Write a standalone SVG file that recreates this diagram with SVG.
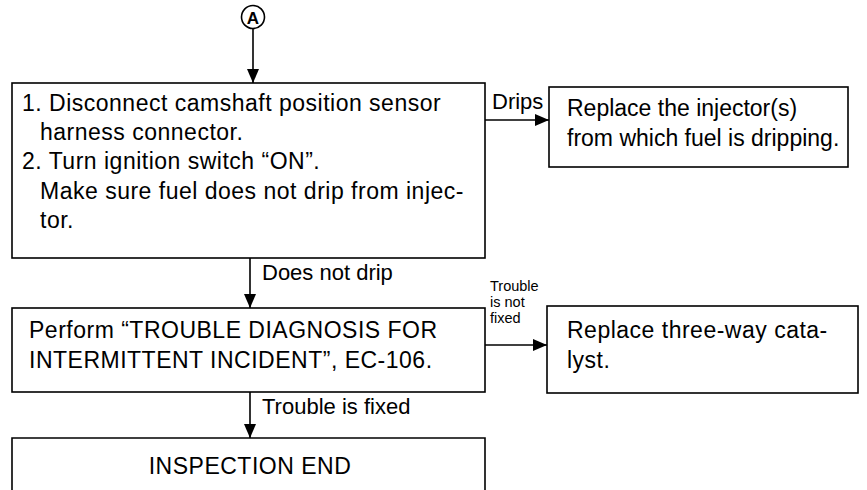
<svg xmlns="http://www.w3.org/2000/svg" width="867" height="490" viewBox="0 0 867 490">
<defs>
<marker id="ah" viewBox="0 0 10 10" refX="10" refY="5" markerWidth="14" markerHeight="12" markerUnits="userSpaceOnUse" orient="auto" preserveAspectRatio="none">
<path d="M0,0 L10,5 L0,10 z" fill="#000"/>
</marker>
</defs>
<style>
.box{fill:#fff;stroke:#000;stroke-width:1.6}
.t{font-family:"Liberation Sans",Arial,sans-serif;font-size:23px;fill:#000;letter-spacing:0.5px}
.lbl{font-family:"Liberation Sans",Arial,sans-serif;font-size:22px;fill:#000}
.s{font-family:"Liberation Sans",Arial,sans-serif;font-size:14.5px;fill:#000}
.ln{stroke:#000;stroke-width:1.6;fill:none}
</style>
<rect width="867" height="490" fill="#fff"/>
<g id="startA">
<circle cx="253" cy="17" r="11.5" fill="#fff" stroke="#000" stroke-width="1.6"/>
<text x="253" y="23.5" text-anchor="middle" style="font-family:'Liberation Sans',Arial,sans-serif;font-size:17px;font-weight:bold">A</text>
</g>
<g id="connectors">
<line class="ln" x1="253" y1="28.5" x2="253" y2="83" marker-end="url(#ah)"/>
<line class="ln" x1="485" y1="120" x2="549" y2="120" marker-end="url(#ah)"/>
<line class="ln" x1="250" y1="258" x2="250" y2="308" marker-end="url(#ah)"/>
<line class="ln" x1="485" y1="345" x2="547" y2="345" marker-end="url(#ah)"/>
<line class="ln" x1="250" y1="392" x2="250" y2="438" marker-end="url(#ah)"/>
<text class="lbl" x="492" y="109">Drips</text>
<text class="lbl" x="262" y="280">Does not drip</text>
<text class="s" x="490" y="291">Trouble</text>
<text class="s" x="490" y="307">is not</text>
<text class="s" x="490" y="323">fixed</text>
<text class="lbl" x="262" y="414">Trouble is fixed</text>
</g>
<g id="step1">
<rect class="box" x="12" y="83" width="473" height="175"/>
<text class="t" x="22" y="111">1. Disconnect camshaft position sensor</text>
<text class="t" x="40" y="140">harness connector.</text>
<text class="t" x="22" y="169">2. Turn ignition switch “ON”.</text>
<text class="t" x="40" y="199">Make sure fuel does not drip from injec-</text>
<text class="t" x="40" y="228">tor.</text>
</g>
<g id="replaceInjector">
<rect class="box" x="549" y="87" width="299" height="80"/>
<text class="t" x="567" y="116" style="letter-spacing:0">Replace the injector(s)</text>
<text class="t" x="567" y="146" style="letter-spacing:0">from which fuel is dripping.</text>
</g>
<g id="troubleDiagnosis">
<rect class="box" x="12" y="308" width="473" height="84"/>
<text class="t" x="29" y="338">Perform “TROUBLE DIAGNOSIS FOR</text>
<text class="t" x="29" y="368">INTERMITTENT INCIDENT”, EC-106.</text>
</g>
<g id="replaceCatalyst">
<rect class="box" x="547" y="306" width="311" height="87"/>
<text class="t" x="567" y="338">Replace three-way cata-</text>
<text class="t" x="567" y="368">lyst.</text>
</g>
<g id="inspectionEnd">
<path class="ln" d="M12,492 L12,438 L485,438 L485,492"/>
<text class="t" x="250" y="474" text-anchor="middle">INSPECTION END</text>
</g>
</svg>
